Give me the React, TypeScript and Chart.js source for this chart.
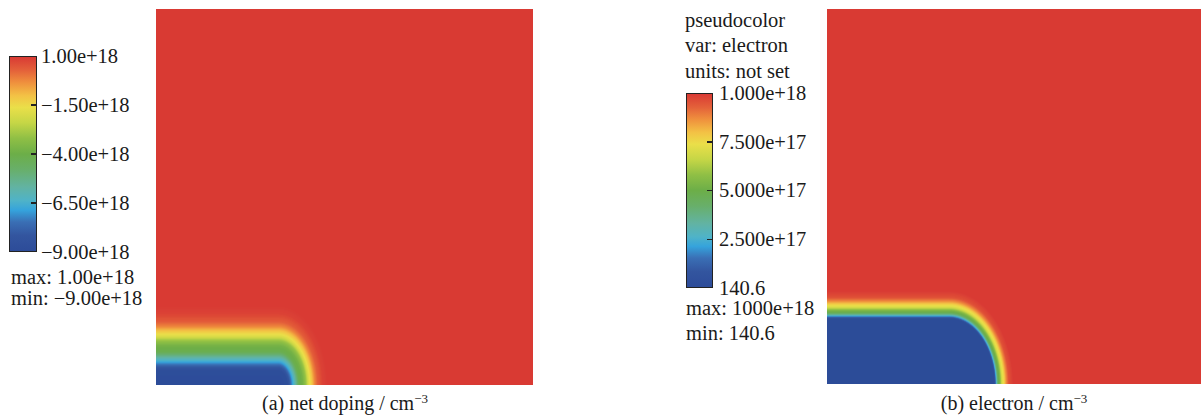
import React, { useEffect, useRef } from "react";
import { Chart, registerables } from "chart.js";

Chart.register(...registerables);

// ---------- colour map (position 0 = min, 1 = max) ----------
const cmapPositions = [0.0, 0.08, 0.15, 0.21, 0.26, 0.33, 0.42, 0.5, 0.58, 0.66, 0.74, 0.8, 0.87, 0.93, 1.0];
const cmapColors = [
  "#2d4c99", "#33559f", "#3a6fb5", "#35a3dc", "#4fb3c8", "#62b3a2", "#68af6a",
  "#6cae48", "#8fbf45", "#c5d646", "#eadf49", "#f3c245", "#ef8f3d", "#e4623a", "#d93a34",
];

// ---------- panel (a): net doping ----------
// depth above the bottom edge (µm, panel height = 1) and net doping there
const dopingDepths = [0, 0.04, 0.051, 0.059, 0.064, 0.072, 0.08, 0.09, 0.106, 0.12, 0.13, 0.138, 0.149, 0.157, 0.17, 0.191, 0.215];
const dopingValues = [-9e18, -8.8e18, -8e18, -7.2e18, -6.7e18, -6e18, -5.2e18, -4.2e18, -3.8e18, -3e18, -2e18, -1.5e18, -0.8e18, -0.2e18, 0.4e18, 0.85e18, 1e18];
const dopingMin = -9e18;
const dopingMax = 1e18;
const dopingEdgeX = 0.3236; // where the implanted region's flat top ends
const dopingLateralRatio = 0.62; // lateral/vertical spread ratio at the edge
const dopingTickFractions = [0, 0.25, 0.5, 0.75, 1];
const dopingTickLabels = ["1.00e+18", "\u22121.50e+18", "\u22124.00e+18", "\u22126.50e+18", "\u22129.00e+18"];

// ---------- panel (b): electron ----------
const electronDepths = [0, 0.176, 0.18, 0.185, 0.19, 0.198, 0.206, 0.213, 0.222, 0.232, 0.25];
const electronValues = [140.6, 140.6, 1.2e17, 3.0e17, 4.5e17, 5.5e17, 7e17, 7.6e17, 8.7e17, 9.6e17, 1e18];
const electronMin = 140.6;
const electronMax = 1e18;
const electronEdgeX = 0.326;
const electronLateralRatio = 0.69;
const electronTickFractions = [0, 0.25, 0.5, 0.75, 1];
const electronTickLabels = ["1.000e+18", "7.500e+17", "5.000e+17", "2.500e+17", "140.6"];

const FONT = "'Liberation Serif', 'Times New Roman', serif";
const TEXT = "#1a1a1a";

function hexToRgb(h: string) {
  const n = parseInt(h.slice(1), 16);
  return [(n >> 16) & 255, (n >> 8) & 255, n & 255];
}
const cmapRgb = cmapColors.map(hexToRgb);

function colorFor(t: number) {
  t = Math.max(0, Math.min(1, t));
  let i = 0;
  while (i < cmapPositions.length - 2 && t > cmapPositions[i + 1]) i++;
  const a = cmapPositions[i], b = cmapPositions[i + 1];
  const f = (t - a) / (b - a);
  const c0 = cmapRgb[i], c1 = cmapRgb[i + 1];
  const r = Math.round(c0[0] + (c1[0] - c0[0]) * f);
  const g = Math.round(c0[1] + (c1[1] - c0[1]) * f);
  const bl = Math.round(c0[2] + (c1[2] - c0[2]) * f);
  return `rgb(${r},${g},${bl})`;
}

function profileAt(depths: number[], values: number[], d: number) {
  if (d <= depths[0]) return values[0];
  for (let i = 0; i < depths.length - 1; i++) {
    if (d <= depths[i + 1]) {
      const f = (d - depths[i]) / (depths[i + 1] - depths[i]);
      return values[i] + (values[i + 1] - values[i]) * f;
    }
  }
  return values[values.length - 1];
}

type Field = {
  depths: number[];
  values: number[];
  min: number;
  max: number;
  edgeX: number;
  ratio: number;
};

function makeHeatPlugin(field: Field) {
  return {
    id: "fieldCells",
    beforeDatasetsDraw(chart: any) {
      const ctx = chart.ctx;
      const xs = chart.scales.x;
      const ys = chart.scales.y;
      const nx = Math.round(chart.chartArea.right - chart.chartArea.left);
      const ny = Math.round(chart.chartArea.bottom - chart.chartArea.top);
      ctx.save();
      for (let i = 0; i < nx; i++) {
        const x0 = i / nx, x1 = (i + 1) / nx, xc = (x0 + x1) / 2;
        const px0 = xs.getPixelForValue(x0);
        const px1 = xs.getPixelForValue(x1);
        for (let j = 0; j < ny; j++) {
          const y0 = j / ny, y1 = (j + 1) / ny, yc = (y0 + y1) / 2;
          let d = yc;
          if (xc > field.edgeX) {
            const lx = (xc - field.edgeX) / field.ratio;
            d = Math.sqrt(lx * lx + yc * yc);
          }
          const v = profileAt(field.depths, field.values, d);
          ctx.fillStyle = colorFor((v - field.min) / (field.max - field.min));
          const py1 = ys.getPixelForValue(y1);
          const py0 = ys.getPixelForValue(y0);
          ctx.fillRect(px0, py1, px1 - px0 + 0.6, py0 - py1 + 0.6);
        }
      }
      ctx.restore();
    },
  };
}

function HeatPanel(props: { field: Field; left: number; top: number; width: number; height: number }) {
  const ref = useRef<HTMLCanvasElement | null>(null);
  useEffect(() => {
    if (!ref.current) return;
    const chart = new Chart(ref.current, {
      type: "scatter",
      data: { datasets: [{ data: [] }] },
      options: {
        animation: false,
        responsive: false,
        maintainAspectRatio: false,
        layout: { padding: 0 },
        plugins: { legend: { display: false }, tooltip: { enabled: false } },
        scales: {
          x: { type: "linear", min: 0, max: 1, display: false },
          y: { type: "linear", min: 0, max: 1, display: false },
        },
      },
      plugins: [makeHeatPlugin(props.field)],
    } as any);
    return () => chart.destroy();
  }, []);
  return (
    <canvas
      ref={ref}
      width={props.width}
      height={props.height}
      style={{ position: "absolute", left: props.left, top: props.top, width: props.width, height: props.height }}
    />
  );
}

const gradientCss =
  "linear-gradient(to top, " +
  cmapColors.map((c, i) => `${c} ${(cmapPositions[i] * 100).toFixed(1)}%`).join(", ") +
  ")";

function ColorBar(props: {
  left: number; top: number; width: number; height: number;
  fractions: number[]; labels: string[]; labelLeft: number; fontSize: number;
}) {
  const { left, top, width, height } = props;
  return (
    <>
      <div
        style={{
          position: "absolute", left, top, width, height,
          boxSizing: "border-box", border: "1.5px solid #222", background: gradientCss,
        }}
      />
      {props.fractions.slice(1, -1).map((f, i) => (
        <div
          key={"t" + i}
          style={{
            position: "absolute", left: left + width - 6, top: top + f * height - 0.75,
            width: 6, height: 1.5, background: "#222",
          }}
        />
      ))}
      {props.labels.map((s, i) => (
        <div
          key={"l" + i}
          style={{
            position: "absolute", left: props.labelLeft, top: top + props.fractions[i] * height - props.fontSize / 2,
            fontSize: props.fontSize, lineHeight: props.fontSize + "px", fontFamily: FONT, color: TEXT, whiteSpace: "nowrap",
          }}
        >
          {s}
        </div>
      ))}
    </>
  );
}

function Label(props: { left?: number; cx?: number; cy: number; size: number; children: any }) {
  const style: any = {
    position: "absolute", top: props.cy - props.size / 2, fontSize: props.size,
    lineHeight: props.size + "px", fontFamily: FONT, color: TEXT, whiteSpace: "nowrap",
  };
  if (props.cx !== undefined) {
    style.left = props.cx - 200;
    style.width = 400;
    style.textAlign = "center";
  } else style.left = props.left;
  return <div style={style}>{props.children}</div>;
}

const dopingField: Field = {
  depths: dopingDepths, values: dopingValues, min: dopingMin, max: dopingMax,
  edgeX: dopingEdgeX, ratio: dopingLateralRatio,
};
const electronField: Field = {
  depths: electronDepths, values: electronValues, min: electronMin, max: electronMax,
  edgeX: electronEdgeX, ratio: electronLateralRatio,
};

export default function App() {
  const fs = 20.5;
  return (
    <div style={{ position: "absolute", left: 0, top: 0, width: 1203, height: 417, background: "#fff", overflow: "hidden" }}>
      <HeatPanel field={dopingField} left={156} top={9} width={377} height={376} />
      <HeatPanel field={electronField} left={827} top={9} width={374} height={375} />

      <ColorBar left={9} top={56} width={28} height={196} fractions={dopingTickFractions} labels={dopingTickLabels} labelLeft={41} fontSize={fs} />
      <Label left={11} cy={277} size={fs}>max: 1.00e+18</Label>
      <Label left={11} cy={298} size={fs}>min: {"\u2212"}9.00e+18</Label>

      <Label left={685} cy={20} size={fs}>pseudocolor</Label>
      <Label left={685} cy={45} size={fs}>var: electron</Label>
      <Label left={685} cy={71} size={fs}>units: not set</Label>
      <ColorBar left={686} top={93} width={27} height={195} fractions={electronTickFractions} labels={electronTickLabels} labelLeft={719} fontSize={fs} />
      <Label left={686} cy={308} size={fs}>max: 1000e+18</Label>
      <Label left={686} cy={333} size={fs}>min: 140.6</Label>

      <Label cx={345} cy={403} size={20}>
        (a) net doping / cm<sup style={{ fontSize: 13, verticalAlign: "7px", lineHeight: 0 }}>{"\u2212"}3</sup>
      </Label>
      <Label cx={1014} cy={403} size={20}>
        (b) electron / cm<sup style={{ fontSize: 13, verticalAlign: "7px", lineHeight: 0 }}>{"\u2212"}3</sup>
      </Label>
    </div>
  );
}
